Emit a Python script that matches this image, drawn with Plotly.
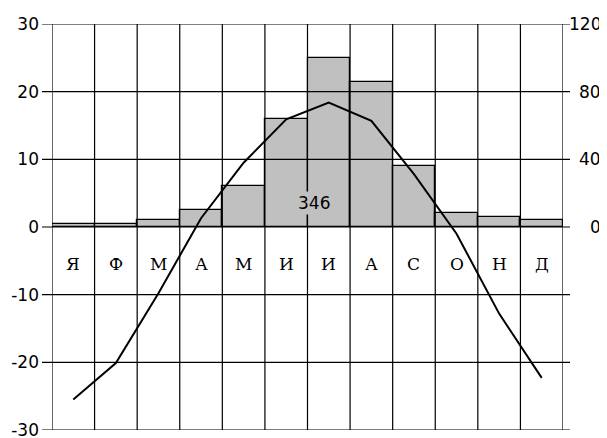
import plotly.graph_objects as go

months = ["Я", "Ф", "М", "А", "М", "И", "И", "А", "С", "О", "Н", "Д"]
month_idx = list(range(1, 13))
temperature = [-25.5, -20.1, -9.8, 1.3, 9.5, 15.9, 18.4, 15.7, 7.8, -1.0, -12.8, -22.3]
precip = [2, 2, 4, 10, 24, 64, 100, 86, 36, 8, 6, 4]
temp_ticks = [-30, -20, -10, 0, 10, 20, 30]
temp_tick_text = ["-30", "-20", "-10", "0", "10", "20", "30"]
precip_ticks = [0, 40, 80, 120]
total = sum(precip)

# page has an 8px body margin, so the figure is sized/offset to compensate
FW, FH = 599, 430
ML, MR, MT, MB = 44, 44, 16, 8
W = FW - ML - MR

fig = go.Figure()
fig.add_trace(go.Bar(x=month_idx, y=precip, width=1, yaxis="y",
                     marker=dict(color="#C0C0C0", line=dict(color="black", width=1.2)),
                     showlegend=False, hoverinfo="skip"))
fig.add_trace(go.Scatter(x=month_idx, y=temperature, yaxis="y2", mode="lines",
                         line=dict(color="black", width=2), showlegend=False))

shapes = []
for t in temp_ticks:
    shapes.append(dict(type="line", xref="paper", yref="y2", x0=-10 / W, x1=1 + 7 / W,
                       y0=t, y1=t, line=dict(color="black", width=1.2), layer="above"))
for b in [m - 0.5 for m in month_idx] + [12.5]:
    shapes.append(dict(type="line", xref="x", yref="paper", x0=b, x1=b, y0=0, y1=1,
                       line=dict(color="black", width=1.2), layer="above"))

ann = []
for m, lab in zip(month_idx, months):
    ann.append(dict(x=m, y=-5.5, xref="x", yref="y2", text=lab, showarrow=False,
                    font=dict(family="DejaVu Serif", size=17, color="black")))
for v in precip_ticks:
    ann.append(dict(x=1 + 40 / W, y=v, xref="paper", yref="y", text=str(v),
                    showarrow=False, xanchor="right",
                    font=dict(family="DejaVu Sans", size=17, color="black")))
ann.append(dict(x=6.66, y=3.5, xref="x", yref="y2", text=str(total), showarrow=False,
                bgcolor="#C0C0C0", borderpad=1,
                font=dict(family="DejaVu Sans", size=17, color="black")))

fig.update_layout(
    template="none",
    width=FW, height=FH,
    margin=dict(l=ML, r=MR, t=MT, b=MB, autoexpand=False),
    paper_bgcolor="white", plot_bgcolor="white",
    bargap=0,
    xaxis=dict(range=[0.5, 12.5], showgrid=False, zeroline=False, showticklabels=False,
               ticks="", showline=False, automargin=False),
    yaxis=dict(range=[-120, 120], side="right", showgrid=False, zeroline=False,
               showticklabels=False, ticks="", showline=False, automargin=False),
    yaxis2=dict(range=[-30, 30], side="left", overlaying="y", showgrid=False, zeroline=False,
                tickvals=temp_ticks, ticktext=temp_tick_text, ticks="",
                ticklabelstandoff=12, ticklabeloverflow="allow", showline=False,
                automargin=False,
                tickfont=dict(family="DejaVu Sans", size=17, color="black")),
    shapes=shapes,
    annotations=ann,
)
fig.write_html("out.html")
